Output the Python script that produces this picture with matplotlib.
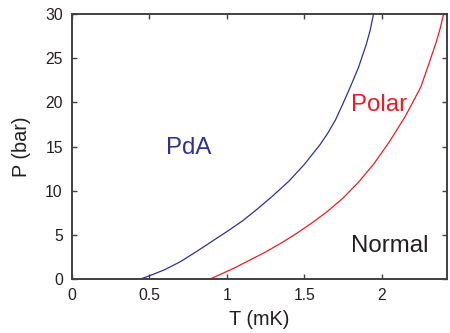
import matplotlib
matplotlib.use("Agg")
import matplotlib.pyplot as plt

# ── Data ─────────────────────────────────────────────────────────────────────
pda_T = [0.435, 0.50, 0.60, 0.70, 0.80, 0.90, 1.00, 1.10, 1.20, 1.30, 1.40,
         1.50, 1.60, 1.65, 1.70, 1.75, 1.80, 1.85, 1.90, 1.925, 1.946]
pda_P = [0.0, 0.4, 1.1, 2.0, 3.1, 4.25, 5.4, 6.6, 8.0, 9.5, 11.1,
         13.0, 15.2, 16.5, 18.0, 19.9, 21.9, 24.0, 26.6, 28.2, 30.0]

polar_T = [0.887, 0.95, 1.05, 1.15, 1.25, 1.35, 1.45, 1.55, 1.65, 1.75, 1.85,
           1.95, 2.05, 2.15, 2.25, 2.30, 2.35, 2.375, 2.398]
polar_P = [0.0, 0.5, 1.3, 2.2, 3.1, 4.1, 5.2, 6.4, 7.7, 9.2, 11.0,
           13.1, 15.6, 18.4, 21.7, 24.2, 26.8, 28.3, 30.0]

x_ticks = [0, 0.5, 1, 1.5, 2]
x_ticklabels = ["0", "0.5", "1", "1.5", "2"]
y_ticks = [0, 5, 10, 15, 20, 25, 30]

BLUE = "#2E3192"
RED = "#ED1C24"
TEXT = "#231F20"

plt.rcParams["font.family"] = ["Liberation Sans", "DejaVu Sans"]

fig = plt.figure(figsize=(4.5, 3.33), dpi=100)
ax = fig.add_axes([0.1596, 0.161, 0.8337, 0.797])

ax.plot(pda_T, pda_P, color=BLUE, lw=0.9)
ax.plot(polar_T, polar_P, color=RED, lw=0.9)

ax.text(0.752, 14.2, "PdA", color=BLUE, fontsize=17.3, ha="center", va="baseline")
ax.text(1.982, 19.0, "Polar", color=RED, fontsize=17.3, ha="center", va="baseline")
ax.text(2.05, 3.1, "Normal", color=TEXT, fontsize=17.3, ha="center", va="baseline")

ax.set_xlim(0, 2.42)
ax.set_ylim(0, 30)
ax.set_xticks(x_ticks)
ax.set_xticklabels(x_ticklabels)
ax.set_yticks(y_ticks)
ax.tick_params(direction="in", top=True, right=True, length=3.5, width=1,
               labelsize=11.3, pad=6.5, colors="#404040", labelcolor=TEXT)
ax.set_xlabel("T (mK)", fontsize=14.3, color=TEXT, labelpad=5)
ax.set_ylabel("P (bar)", fontsize=14.3, color=TEXT, labelpad=10)
for spine in ax.spines.values():
    spine.set_color("#404040")
    spine.set_linewidth(1.4)

fig.savefig("out.png", dpi=100)
